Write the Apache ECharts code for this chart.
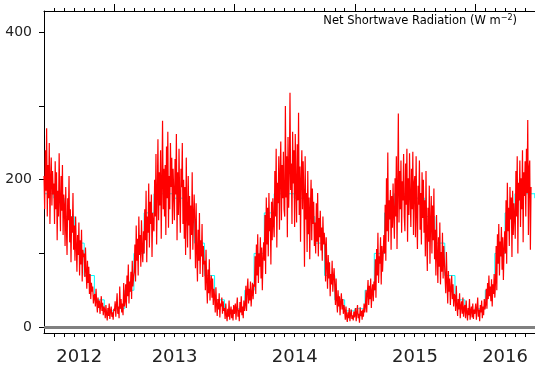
<!DOCTYPE html>
<html>
<head>
<meta charset="utf-8">
<script src="https://cdn.jsdelivr.net/npm/echarts@6/dist/echarts.min.js"></script>
<style>
html,body{margin:0;padding:0;background:#fff;}
#chart{width:535px;height:368px;}
</style>
</head>
<body>
<div id="chart"></div>
<script>
// ---- DATA (2-day sampled daily net shortwave radiation, W m-2) ----
// each array starts on the given date; one value every 2 days
const sw2012Start = [2012, 6, 1];
const sw2012 = [
  205,160,240,185,270,150,220,175,250,140,200,230,165,212,180,
  195,140,225,160,210,118,185,150,236,172,130,205,158,220,125,180,
  165,110,190,135,98,175,145,205,115,160,88,150,128,182,105,
  138,90,150,110,75,125,98,142,70,118,85,132,62,105,95,
  100,68,108,75,52,90,60,82,45,72,38,60,48,55,32,42,
  45,28,52,34,20,40,26,36,18,30,42,22,33,16,28,
  24,12,30,18,9,26,15,32,11,22,28,14,20,10,25
];
const sw2013Start = [2013, 1, 1];
const sw2013 = [
  22,35,14,30,46,18,28,12,55,25,38,20,32,16,60,28,
  35,58,26,70,42,85,32,62,48,75,38,90,55,68,
  75,112,62,138,90,120,70,150,98,125,82,145,105,88,130,
  100,160,118,185,88,150,128,195,108,170,140,180,95,155,135,
  130,200,150,235,112,180,255,145,210,165,240,120,195,280,160,215,
  150,220,125,245,175,265,135,205,160,250,190,230,140,215,182,
  145,228,180,262,118,210,152,242,172,128,215,190,250,140,200,
  120,190,98,230,152,108,205,138,178,92,165,125,210,105,150,180,
  142,80,168,102,62,132,90,155,72,118,96,140,68,110,85,
  90,50,105,62,32,78,46,92,36,58,70,40,66,30,52,
  42,20,54,30,15,38,24,46,13,32,28,40,18,35,22,
  26,11,32,17,8,25,14,36,10,21,28,12,24,9,30,18
];
const sw2014Start = [2014, 1, 1];
const sw2014 = [
  18,32,10,26,40,14,24,8,34,20,42,16,28,12,36,22,
  30,56,22,50,66,32,52,36,62,28,45,60,38,58,
  55,96,45,112,70,126,60,100,82,122,66,108,50,92,115,
  90,152,72,176,112,162,96,182,130,148,85,170,118,175,140,
  122,212,150,242,108,196,168,232,132,206,252,145,220,175,238,160,
  150,300,176,232,122,258,162,210,318,186,222,140,265,195,240,
  136,262,192,142,248,172,291,152,218,116,202,240,160,225,180,
  82,232,146,182,102,212,126,176,92,162,200,118,188,140,170,110,
  142,100,168,116,182,96,148,122,158,104,135,90,150,112,128,
  112,62,122,82,52,98,66,88,42,72,58,90,48,68,80,
  56,30,66,36,20,50,28,42,16,34,46,24,38,18,30,
  22,10,28,14,7,20,12,26,8,18,24,11,16,9,21,13
];
const sw2015Start = [2015, 1, 1];
const sw2015 = [
  15,26,8,20,30,12,18,6,27,15,22,10,24,14,32,20,
  28,50,20,46,64,30,56,38,66,26,48,58,35,62,
  50,92,40,106,70,128,60,96,86,122,58,110,75,100,125,
  100,166,90,202,130,237,116,172,146,186,105,178,135,195,150,
  120,202,150,232,106,186,290,142,212,160,226,128,198,172,235,150,
  130,222,166,242,116,202,152,236,176,136,215,160,238,125,195,
  205,122,232,152,106,192,166,226,132,182,112,210,148,200,128,
  172,96,212,126,76,162,116,192,86,142,178,100,165,118,188,92,
  132,70,152,96,60,122,82,142,58,102,75,128,66,110,88,
  86,46,102,62,32,76,48,66,30,52,70,38,58,28,45,
  42,22,56,30,15,38,24,46,12,28,35,18,40,14,26,
  30,12,36,20,9,26,16,38,10,22,28,13,32,11,24,18
];
const sw2016Start = [2016, 1, 1];
const sw2016 = [
  18,32,10,26,40,14,24,8,30,20,36,12,28,16,38,24,
  30,52,25,60,38,70,42,55,35,65,28,58,45,72,40,
  60,110,50,126,86,140,70,116,96,136,78,122,64,105,130,
  100,172,86,196,130,162,110,190,146,176,95,185,125,168,150,
  120,212,150,232,100,196,172,226,136,202,160,240,115,210,178,225,
  150,242,182,281,125,216,226,105,190
];
// monthly climatology Jan..Dec (cyan)
const climatology = [25, 50, 100, 155, 181, 181, 175, 150, 114, 70, 37, 22];
const yearLabels = ['2012', '2013', '2014', '2015', '2016'];
const yTicks = [0, 100, 200, 300, 400];
const yLabels = [0, 200, 400];
const titleText = 'Net Shortwave Radiation (W m';
const STEP_DAYS = 2;

// ---- helpers ----
const DAY = 86400000;
const T0 = Date.UTC(2012, 5, 1);
const X_MIN = 0;
const X_MAX = (Date.UTC(2016, 6, 1) - T0) / DAY;
function dayOf(y, m, d) { return (Date.UTC(y, m - 1, d) - T0) / DAY; }

function build(start, arr) {
  const d0 = dayOf(start[0], start[1], start[2]);
  return arr.map((v, i) => [d0 + STEP_DAYS * i, v]);
}
const redData = [].concat(
  build(sw2012Start, sw2012), build(sw2013Start, sw2013),
  build(sw2014Start, sw2014), build(sw2015Start, sw2015),
  build(sw2016Start, sw2016)
);

const cyanData = [];
for (let y = 2012; y <= 2016; y++) {
  for (let m = 1; m <= 12; m++) {
    const d = dayOf(y, m, 1);
    if (d < X_MIN || d > X_MAX) continue;
    cyanData.push([d, climatology[m - 1]]);
  }
}
cyanData.push([X_MAX, climatology[5]]);

const monthTicks = [];
for (let y = 2012; y <= 2016; y++) for (let m = 1; m <= 12; m++) {
  const d = dayOf(y, m, 1);
  if (d > X_MIN && d < X_MAX) monthTicks.push(d);
}
const yearTicks = [2013, 2014, 2015, 2016].map(y => dayOf(y, 1, 1));
const bounds = [X_MIN].concat(yearTicks, [X_MAX]);
const yearCenters = yearLabels.map((s, i) => (bounds[i] + bounds[i + 1]) / 2);
const labelMap = {};
yearCenters.forEach((c, i) => { labelMap[c] = yearLabels[i]; });

const FONT = 'DejaVu Sans';
const black = '#000';

function xAx(pos, ticks, len, withLine, withLabels) {
  return {
    type: 'value', position: pos, min: X_MIN, max: X_MAX,
    axisLine: { show: withLine, onZero: false, lineStyle: { color: black, width: 1 } },
    axisTick: { show: true, customValues: ticks, length: len, inside: false,
                lineStyle: { color: black, width: 1 } },
    axisLabel: withLabels ? {
      show: true, customValues: yearCenters, margin: 15,
      fontFamily: FONT, fontSize: 18, color: '#222',
      formatter: v => labelMap[v] || ''
    } : { show: false },
    splitLine: { show: false }
  };
}

const chart = echarts.init(document.getElementById('chart'), null, { renderer: 'canvas' });
chart.setOption({
  animation: false,
  backgroundColor: '#fff',
  title: {
    text: '{a|' + titleText + '}{b|−2}{a|)}',
    right: 13, top: 9,
    textStyle: {
      fontWeight: 'normal',
      rich: {
        a: { fontFamily: FONT, fontSize: 11.5, fontWeight: 'normal', color: black, lineHeight: 14 },
        b: { fontFamily: FONT, fontSize: 8, fontWeight: 'normal', color: black, verticalAlign: 'top', lineHeight: 8 }
      }
    }
  },
  grid: { left: 44, right: 0, top: 11, bottom: 35, containLabel: false },
  xAxis: [
    xAx('bottom', monthTicks, 4, true, true),
    xAx('bottom', yearTicks, 8, false, false),
    xAx('top', monthTicks, 3, true, false),
    xAx('top', yearTicks, 7, false, false)
  ],
  yAxis: {
    type: 'value', min: -8, max: 429,
    axisLine: { show: true, onZero: false, lineStyle: { color: black, width: 1 } },
    axisTick: { show: true, customValues: yTicks, length: 5, lineStyle: { color: black } },
    axisLabel: { show: true, customValues: yLabels, margin: 12, fontFamily: FONT, fontSize: 14, color: '#222' },
    splitLine: { show: false }
  },
  series: [
    {
      type: 'line', xAxisIndex: 0, data: cyanData, step: 'end',
      symbol: 'none', z: 1, silent: true,
      lineStyle: { color: '#00ffff', width: 1 },
      markLine: {
        silent: true, symbol: 'none', label: { show: false },
        lineStyle: { color: '#808080', width: 3, type: 'solid' },
        data: [{ yAxis: 0 }]
      }
    },
    {
      type: 'line', xAxisIndex: 0, data: redData,
      symbol: 'none', z: 3, silent: true,
      lineStyle: { color: '#ff0000', width: 1.2 }
    }
  ]
});
</script>
</body>
</html>
